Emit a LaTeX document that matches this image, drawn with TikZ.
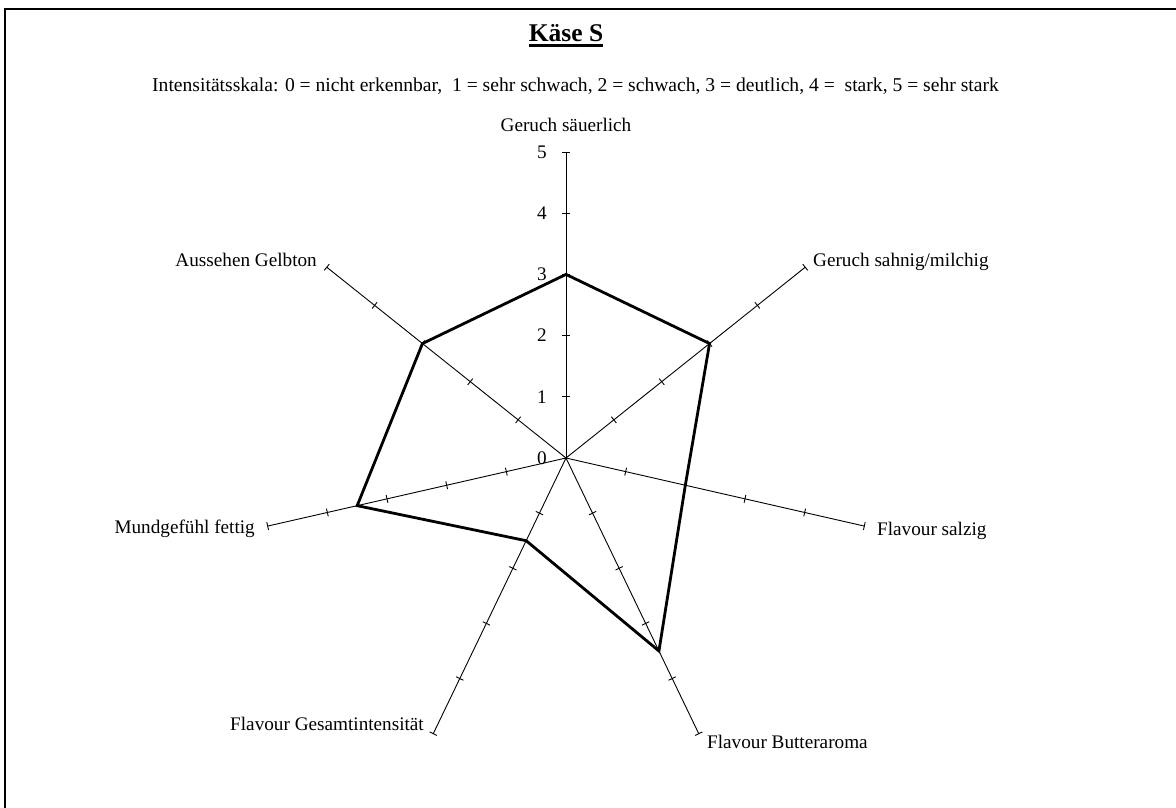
\documentclass[tikz,border=0pt]{standalone}
\usepackage{fontspec}
\setmainfont{Liberation Serif}
\usetikzlibrary{calc}
\begin{document}
\begin{tikzpicture}[x=1pt,y=-1pt,
  lbl/.style={inner sep=0pt, font=\fontsize{19.2}{23}\selectfont},
  axisline/.style={line width=0.9pt},
  tickline/.style={line width=0.9pt},
  series/.style={line width=2.8pt, line join=miter},
  frame/.style={line width=2pt}]
\useasboundingbox (0,0) rectangle (1176,808);
\draw[frame] (5,808) -- (5,9) -- (1176,9);
% title
\node[inner sep=0pt, anchor=base, font=\fontsize{25.5}{30}\selectfont\bfseries] (title) at (566,42) {Käse S};
\draw[line width=2.4pt] ($(title.base west)+(0,3.5)$) -- ($(title.base east)+(0,3.5)$);
\node[lbl, anchor=base west, font=\fontsize{19.6}{23}\selectfont] (sub) at (152,92) {Intensitätsskala: 0 = nicht erkennbar,\ \ 1 = sehr schwach, 2 = schwach, 3 = deutlich, 4 =\ \ stark, 5 = sehr stark};
% axes
\coordinate (O) at (566,458);
\def\u{61.2}
\foreach \i/\v in {1/3,2/3,3/2,4/3.5,5/1.5,6/3.5,7/3} {
  \pgfmathsetmacro\ang{(\i-1)*360/7-90}
  \coordinate (a\i) at ($(O)+(\ang:5*\u)$);
  \coordinate (p\i) at ($(O)+(\ang:\v*\u)$);
  \draw[axisline] (O) -- (a\i);
  \foreach \k in {1,...,5} {
    \draw[tickline] ($(O)+(\ang:\k*\u)+(\ang+90:4)$) -- ($(O)+(\ang:\k*\u)+(\ang-90:4)$);
  }
}
% scale numbers
\foreach \k in {0,...,5} {
  \node[lbl, anchor=east] (n\k) at (547,458-\k*\u) {\k};
}
% series
\draw[series] (p1) -- (p2) -- (p3) -- (p4) -- (p5) -- (p6) -- (p7) -- cycle;
% labels
\node[lbl, anchor=base] (l1) at (566,131) {Geruch säuerlich};
\node[lbl, anchor=base west] (l2) at (813,266) {Geruch sahnig/milchig};
\node[lbl, anchor=base west] (l3) at (877,535) {Flavour salzig};
\node[lbl, anchor=base west] (l4) at (707,748) {Flavour Butteraroma};
\node[lbl, anchor=base east] (l5) at (424,730) {Flavour Gesamtintensität};
\node[lbl, anchor=base east] (l6) at (255,533) {Mundgefühl fettig};
\node[lbl, anchor=base east] (l7) at (317,266) {Aussehen Gelbton};
\end{tikzpicture}
\end{document}
